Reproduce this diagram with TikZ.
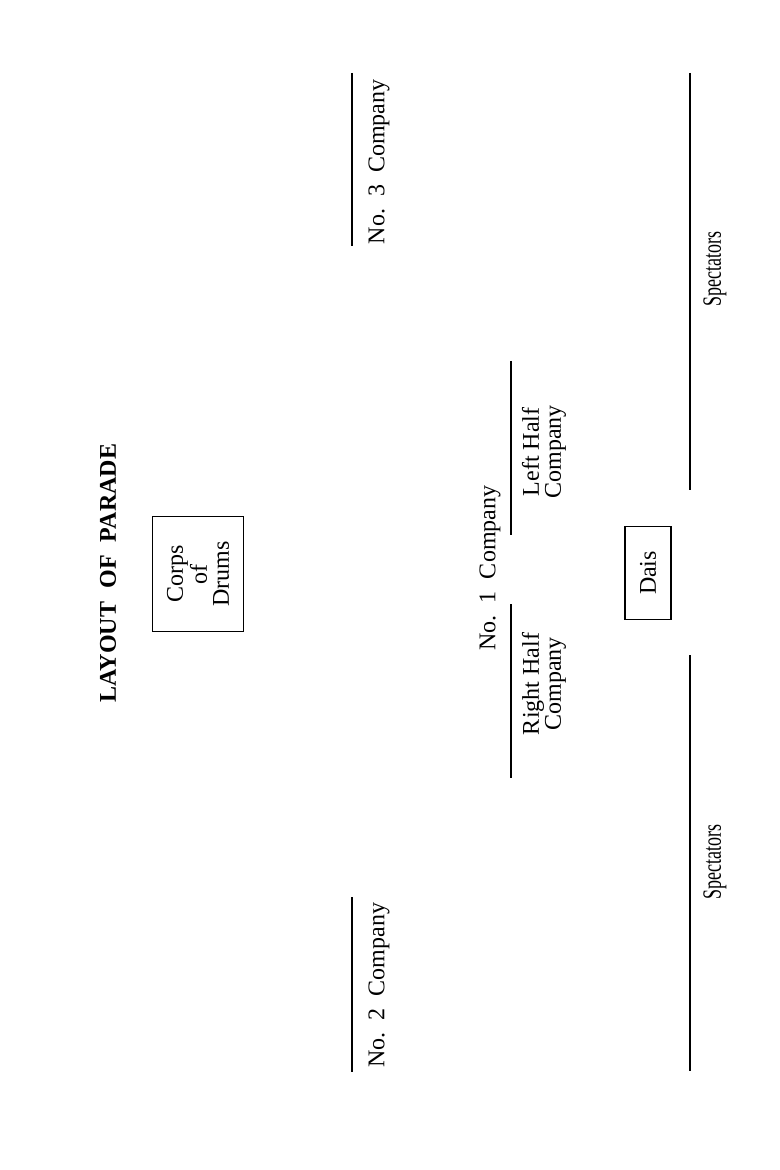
\documentclass[tikz,border=0pt]{standalone}
\usepackage{fontspec}
\setmainfont{Liberation Serif}
\begin{document}
\begin{tikzpicture}[x=0.5pt,y=-0.5pt,
  lbl/.style={rotate=90,inner sep=0pt,font=\fontsize{12}{11}\selectfont,align=center},
  boxed/.style={lbl,draw,line width=0.6pt},
  rule/.style={line width=0.6pt}]
\useasboundingbox (0,0) rectangle (780,1170);
% title
\node[lbl,font=\bfseries\fontsize{12}{11}\selectfont] (title) at (108,573) {LAYOUT\hspace{0.55em}OF\hspace{0.55em}PARADE};
% corps of drums
\node[boxed,minimum width=57.5pt,minimum height=45.5pt] (corps) at (198,574) {Corps\\of\\Drums};
% No. 3 Company
\coordinate (c3a) at (352,73);
\coordinate (c3b) at (352,246);
\draw[rule] (c3a) -- (c3b);
\node[lbl] (no3) at (379,162) {No.\ \ 3\ \ Company};
% No. 2 Company
\coordinate (c2a) at (352,897);
\coordinate (c2b) at (352,1072);
\draw[rule] (c2a) -- (c2b);
\node[lbl] (no2) at (379,985) {No.\ \ 2\ \ Company};
% No. 1 Company
\node[lbl] (no1) at (490,568) {No.\ \ 1\ \ Company};
\coordinate (l1a) at (511,361);
\coordinate (l1b) at (511,535);
\draw[rule] (l1a) -- (l1b);
\coordinate (r1a) at (511,604);
\coordinate (r1b) at (511,778);
\draw[rule] (r1a) -- (r1b);
\node[lbl] (left) at (544,452) {Left Half\\Company};
\node[lbl] (right) at (544,684) {Right Half\\Company};
% Dais
\node[boxed,minimum width=46.5pt,minimum height=23pt] (dais) at (648,573) {Dais};
% Spectators
\coordinate (s1a) at (690,73);
\coordinate (s1b) at (690,490);
\draw[rule] (s1a) -- (s1b);
\coordinate (s2a) at (690,655);
\coordinate (s2b) at (690,1071);
\draw[rule] (s2a) -- (s2b);
\node[lbl] (spec1) at (715,269) {\scalebox{0.75}[1.1]{Spectators}};
\node[lbl] (spec2) at (715,862) {\scalebox{0.75}[1.1]{Spectators}};
\end{tikzpicture}
\end{document}
